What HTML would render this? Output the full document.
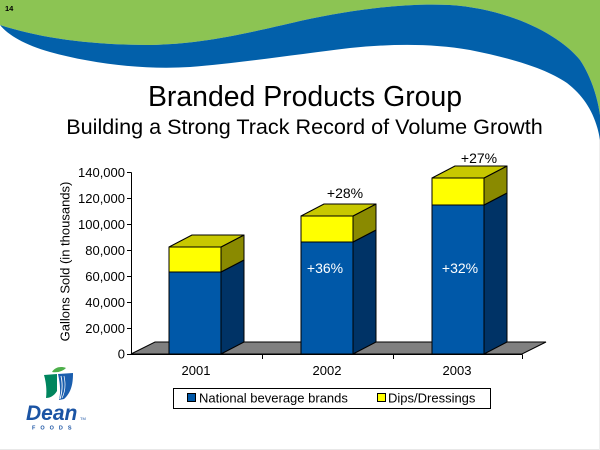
<!DOCTYPE html>
<html>
<head>
<meta charset="utf-8">
<style>
html,body{margin:0;padding:0;background:#fff;}
svg{display:block;}
text{font-family:"Liberation Sans",Arial,sans-serif;}
</style>
</head>
<body>
<svg width="600" height="450" viewBox="0 0 600 450" xmlns="http://www.w3.org/2000/svg">
  <rect x="0" y="0" width="600" height="450" fill="#fff"/>
  <!-- faint slide border -->
  <line x1="0" y1="449.5" x2="600" y2="449.5" stroke="#e8e8e8" stroke-width="1"/>
  <line x1="599.5" y1="0" x2="599.5" y2="450" stroke="#eeeeee" stroke-width="1"/>

  <!-- header wave -->
  <path d="M0,0 H600 V115 C598,100 592,78 580,60 C560,35 510,9 450,5 C410,3 360,8 300,21 C240,35 200,44 150,45 C90,45 40,38 0,25 Z" fill="#8CC453"/>
  <path d="M0,25 C40,38 90,45 150,45 C200,44 240,35 300,21 C360,8 410,3 450,5 C510,9 560,35 580,60 C592,78 598,100 600,115 L600,140 C596,115 585,97 567,83 C545,68 510,58 470,50 C430,43 390,44 350,48 C300,54 240,63 190,67 C140,70 90,63 50,52 C25,45 8,35 0,25 Z" fill="#0260AA"/>
  <text x="5" y="11" font-size="7.5" font-weight="bold" fill="#000">14</text>

  <!-- titles -->
  <text x="305" y="106" font-size="28.4" text-anchor="middle" fill="#000">Branded Products Group</text>
  <text x="304.5" y="134" font-size="21.6" text-anchor="middle" fill="#000">Building a Strong Track Record of Volume Growth</text>

  <!-- y axis title -->
  <text transform="translate(69.5,261.5) rotate(-90)" font-size="13" text-anchor="middle" fill="#000">Gallons Sold (in thousands)</text>

  <!-- y axis tick labels -->
  <g font-size="13" text-anchor="end" fill="#000">
    <text x="125" y="177.2">140,000</text>
    <text x="125" y="203.1">120,000</text>
    <text x="125" y="229.1">100,000</text>
    <text x="125" y="255.0">80,000</text>
    <text x="125" y="280.9">60,000</text>
    <text x="125" y="306.8">40,000</text>
    <text x="125" y="332.8">20,000</text>
    <text x="125" y="358.7">0</text>
  </g>

  <!-- floor -->
  <polygon points="131,354 522,354 546,342 155,342" fill="#808080" stroke="#000" stroke-width="1"/>

  <!-- y axis -->
  <g stroke="#000" stroke-width="1">
    <line x1="131.5" y1="172.5" x2="131.5" y2="354.5"/>
    <line x1="127" y1="172.5" x2="131.5" y2="172.5"/>
    <line x1="127" y1="198.5" x2="131.5" y2="198.5"/>
    <line x1="127" y1="224.5" x2="131.5" y2="224.5"/>
    <line x1="127" y1="250.5" x2="131.5" y2="250.5"/>
    <line x1="127" y1="276.5" x2="131.5" y2="276.5"/>
    <line x1="127" y1="302.5" x2="131.5" y2="302.5"/>
    <line x1="127" y1="328.5" x2="131.5" y2="328.5"/>
    <line x1="127" y1="354.5" x2="522" y2="354.5"/>
    <line x1="262.5" y1="354.5" x2="262.5" y2="359"/>
    <line x1="393.5" y1="354.5" x2="393.5" y2="359"/>
    <line x1="522.5" y1="354.5" x2="522.5" y2="359"/>
  </g>

  <!-- bars -->
  <g stroke="#000" stroke-width="1" stroke-linejoin="round">
    <!-- 2001 -->
    <polygon points="221,354 244,342 244,260 221,272" fill="#003366"/>
    <rect x="169" y="272" width="52" height="82" fill="#0058A8"/>
    <polygon points="221,272 244,260 244,235 221,247" fill="#8A8A00"/>
    <rect x="169" y="247" width="52" height="25" fill="#FFFF00"/>
    <polygon points="169,247 192,235 244,235 221,247" fill="#C8C800"/>
    <!-- 2002 -->
    <polygon points="353,354 376,342 376,230 353,242" fill="#003366"/>
    <rect x="301" y="242" width="52" height="112" fill="#0058A8"/>
    <polygon points="353,242 376,230 376,204 353,216" fill="#8A8A00"/>
    <rect x="301" y="216" width="52" height="26" fill="#FFFF00"/>
    <polygon points="301,216 324,204 376,204 353,216" fill="#C8C800"/>
    <!-- 2003 -->
    <polygon points="484,354 507,342 507,193 484,205" fill="#003366"/>
    <rect x="432" y="205" width="52" height="149" fill="#0058A8"/>
    <polygon points="484,205 507,193 507,166 484,178" fill="#8A8A00"/>
    <rect x="432" y="178" width="52" height="27" fill="#FFFF00"/>
    <polygon points="432,178 455,166 507,166 484,178" fill="#C8C800"/>
  </g>

  <!-- percentage labels -->
  <g font-size="14" text-anchor="middle">
    <text x="345" y="198" fill="#000">+28%</text>
    <text x="479" y="163" fill="#000">+27%</text>
    <text x="325" y="273" fill="#fff">+36%</text>
    <text x="460" y="273" fill="#fff">+32%</text>
  </g>

  <!-- category labels -->
  <g font-size="13" text-anchor="middle" fill="#000">
    <text x="196" y="375">2001</text>
    <text x="327" y="375">2002</text>
    <text x="457" y="375">2003</text>
  </g>

  <!-- legend -->
  <rect x="173.5" y="388.5" width="317" height="20" fill="#fff" stroke="#000" stroke-width="1"/>
  <rect x="187.5" y="393.5" width="8" height="8" fill="#0058A8" stroke="#000" stroke-width="1"/>
  <text x="199" y="402.5" font-size="13" fill="#000">National beverage brands</text>
  <rect x="377.5" y="393.5" width="8" height="8" fill="#FFFF00" stroke="#000" stroke-width="1"/>
  <text x="388" y="402.5" font-size="13" fill="#000">Dips/Dressings</text>

  <!-- Dean Foods logo -->
  <path d="M52,372 C55,367 61,366 66,368 C63,371 58,373 52,372 Z" fill="#4DAF4A"/>
  <path d="M44,375 L57,374 L57,391 C54,396 50,398 46,398 C47,390 46,382 44,375 Z" fill="#00855E"/>
  <path d="M58,374 L73,373 C73,382 72,392 64,399 L59,400 C61,392 60,383 58,374 Z" fill="#1A5EAE"/>
  <path d="M61,376 C63,385 62,393 60,399" stroke="#fff" stroke-width="0.9" fill="none"/>
  <path d="M64,376 C66,385 65,392 62,398" stroke="#fff" stroke-width="0.7" fill="none"/>
  <text x="26" y="420" font-size="21" font-weight="bold" font-style="italic" fill="#1B54A4">Dean</text>
  <text x="80" y="420" font-size="4" fill="#1B54A4">TM</text>
  <text x="32" y="429.5" font-size="5.5" font-weight="bold" fill="#1B54A4" letter-spacing="5">FOODS</text>
</svg>
</body>
</html>
